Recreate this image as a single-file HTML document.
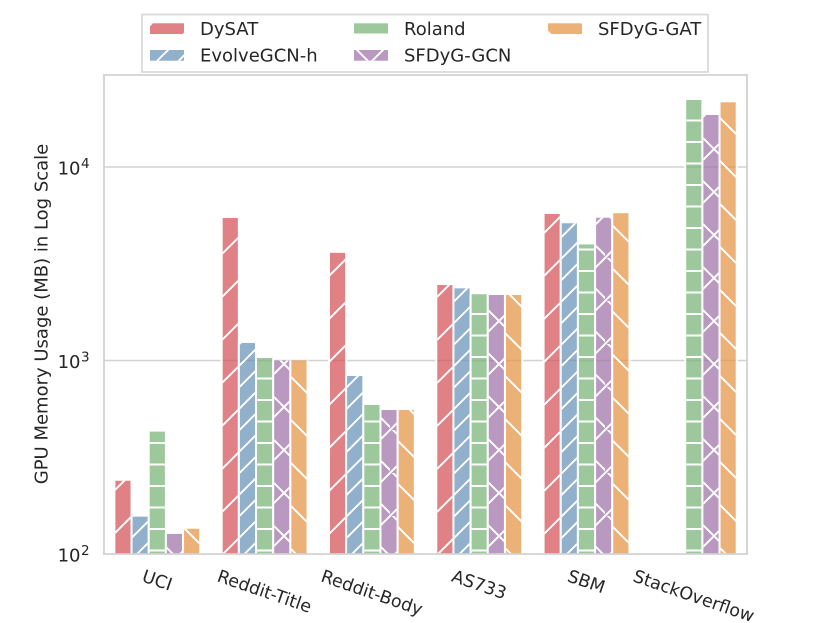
<!DOCTYPE html>
<html lang="en">
<head>
<meta charset="utf-8">
<title>GPU Memory Usage</title>
<style>
html,body{margin:0;padding:0;background:#fff;width:830px;height:623px;overflow:hidden}
svg{display:block;font-family:"DejaVu Sans","Liberation Sans",sans-serif;fill:#262626}
</style>
</head>
<body>
<svg id="chart" xmlns="http://www.w3.org/2000/svg" width="830" height="623" viewBox="0 0 830 623">
  <defs>
    <pattern id="h-dysat" patternUnits="userSpaceOnUse" width="43" height="43" patternTransform="translate(3,0)">
      <path d="M-5 48L48 -5M-5 5L5 -5M38 48L48 38" stroke="#fff" stroke-width="1.9"/>
    </pattern>
    <pattern id="h-evolve" patternUnits="userSpaceOnUse" width="21.5" height="21.5" patternTransform="translate(3,0)">
      <path d="M-5 26.5L26.5 -5M-5 5L5 -5M16.5 26.5L26.5 16.5" stroke="#fff" stroke-width="1.9"/>
    </pattern>
    <pattern id="h-roland" patternUnits="userSpaceOnUse" width="21.5" height="21.5">
      <path d="M-1 13H23" stroke="#fff" stroke-width="1.9"/>
    </pattern>
    <pattern id="h-gcn" patternUnits="userSpaceOnUse" width="43" height="43" patternTransform="translate(3,0)">
      <path d="M-5 48L48 -5M-5 5L5 -5M38 48L48 38M-5 -8L51 48M38 -5L48 5M-5 38L5 48" stroke="#fff" stroke-width="1.9"/>
    </pattern>
    <pattern id="h-gat" patternUnits="userSpaceOnUse" width="43" height="43">
      <path d="M-5 -5L48 48M38 -5L48 5M-5 38L5 48" stroke="#fff" stroke-width="1.9"/>
    </pattern>
  </defs>

  <g id="grid"></g>
  <g id="bars"></g>

  <g stroke="#d2d2d2" stroke-width="1.8" fill="none">
    <path d="M104 75V554"/>
    <path d="M747 75V554"/>
    <path d="M103 554H748"/>
    <path d="M103 75H748"/>
  </g>

  <g id="ylabels"></g>
  <g id="xlabels"></g>

  <text transform="translate(47.5,314) rotate(-90)" text-anchor="middle" font-size="18">GPU Memory Usage (MB) in Log Scale</text>

  <g>
    <rect x="142" y="14.5" width="566" height="57.5" fill="#fff" fill-opacity="0.9" stroke="#d6d6d6" stroke-width="1.6"/>
    <g>
      <rect x="150" y="23.3" width="34" height="10.7" fill="#d14c51" fill-opacity="0.7"/><rect x="150" y="23.3" width="34" height="10.7" fill="url(#h-dysat)"/>
      <text x="200" y="35" font-size="18">DySAT</text>
    </g>
    <g>
      <rect x="150" y="50" width="34" height="10.7" fill="#638eb5" fill-opacity="0.7"/><rect x="150" y="50" width="34" height="10.7" fill="url(#h-evolve)"/>
      <text x="200" y="61.7" font-size="18">EvolveGCN-h</text>
    </g>
    <g>
      <rect x="354" y="23.3" width="34" height="10.7" fill="#73b072" fill-opacity="0.7"/><rect x="354" y="23.3" width="34" height="10.7" fill="url(#h-roland)"/>
      <text x="404" y="35" font-size="18">Roland</text>
    </g>
    <g>
      <rect x="354" y="50" width="34" height="10.7" fill="#9c6da5" fill-opacity="0.7"/><rect x="354" y="50" width="34" height="10.7" fill="url(#h-gcn)"/>
      <text x="404" y="61.7" font-size="18">SFDyG-GCN</text>
    </g>
    <g>
      <rect x="548" y="23.3" width="34" height="10.7" fill="#e4903d" fill-opacity="0.7"/><rect x="548" y="23.3" width="34" height="10.7" fill="url(#h-gat)"/>
      <text x="598" y="35" font-size="18">SFDyG-GAT</text>
    </g>
  </g>
</svg>
<script>
var categories = ["UCI", "Reddit-Title", "Reddit-Body", "AS733", "SBM", "StackOverflow"];
var dysat = [239, 5450, 3600, 2455, 5720, null];
var evolveGcnH = [156, 1232, 832, 2360, 5120, null];
var roland = [429, 1055, 589, 2200, 3980, 22750];
var sfdygGcn = [127, 1000, 555, 2180, 5470, 18570];
var sfdygGat = [135, 1000, 555, 2180, 5770, 21600];
var yTicks = [100, 1000, 10000];
var yTickExponents = ["2", "3", "4"];

var NS = "http://www.w3.org/2000/svg";
var seriesList = [
  {key: "dysat", values: dysat, color: "#d14c51", hatch: "h-dysat"},
  {key: "evolvegcn-h", values: evolveGcnH, color: "#638eb5", hatch: "h-evolve"},
  {key: "roland", values: roland, color: "#73b072", hatch: "h-roland"},
  {key: "sfdyg-gcn", values: sfdygGcn, color: "#9c6da5", hatch: "h-gcn"},
  {key: "sfdyg-gat", values: sfdygGat, color: "#e4903d", hatch: "h-gat"}
];

function yScale(v) { return 554 - (Math.log10(v) - 2) * 193.5; }
function xBand(i) { return 157.3 + i * 107.3; }
var barStep = 17.17;

function make(tag, attrs, parent) {
  var el = document.createElementNS(NS, tag);
  for (var k in attrs) { el.setAttribute(k, attrs[k]); }
  parent.appendChild(el);
  return el;
}

var gridG = document.getElementById("grid");
var ylabG = document.getElementById("ylabels");
yTicks.forEach(function (t, i) {
  var y = yScale(t);
  if (i > 0) {
    var line = make("line", {x1: 104, x2: 747, y1: y, y2: y, stroke: "#d2d2d2", "stroke-width": 1.6}, gridG);
    
    
  }
  var label = make("text", {x: 80.5, y: y + 7.5, "text-anchor": "end", "font-size": 18}, ylabG);
  
  
  label.textContent = "10";
  var sup = make("text", {x: 81, y: y + 1, "font-size": 13.5}, ylabG);
  
  
  sup.textContent = yTickExponents[i];
});

var barsG = document.getElementById("bars");
seriesList.forEach(function (s, si) {
  s.values.forEach(function (v, ci) {
    if (v === null) { return; }
    var x = xBand(ci) + (si - 2.5) * barStep;
    var y = yScale(v);
    var h = 554 - y;
    var edge = make("path", {d: "M" + x + " " + y + "V554M" + (x + barStep) + " " + y + "V554", stroke: "#fff", "stroke-width": 2, fill: "none"}, barsG);
    
    
    var bar = make("rect", {x: x + 1, y: y, width: barStep - 2, height: h, fill: s.color, "fill-opacity": 0.7}, barsG);
    
    
    var hatch = make("rect", {x: x + 1, y: y, width: barStep - 2, height: h, fill: "url(#" + s.hatch + ")"}, barsG);
    
    
  });
});

var xlabG = document.getElementById("xlabels");
var labelAngle = 19;
categories.forEach(function (c, i) {
  var cx = xBand(i) - 2;
  var t = make("text", {"text-anchor": "middle", "font-size": 17.5}, xlabG);
  
  
  t.textContent = c;
  var half = t.getComputedTextLength() / 2;
  var cy = 581 + half * Math.sin(labelAngle * Math.PI / 180);
  t.setAttribute("transform", "translate(" + cx + "," + cy + ") rotate(" + labelAngle + ")");
});
</script>
</body>
</html>
